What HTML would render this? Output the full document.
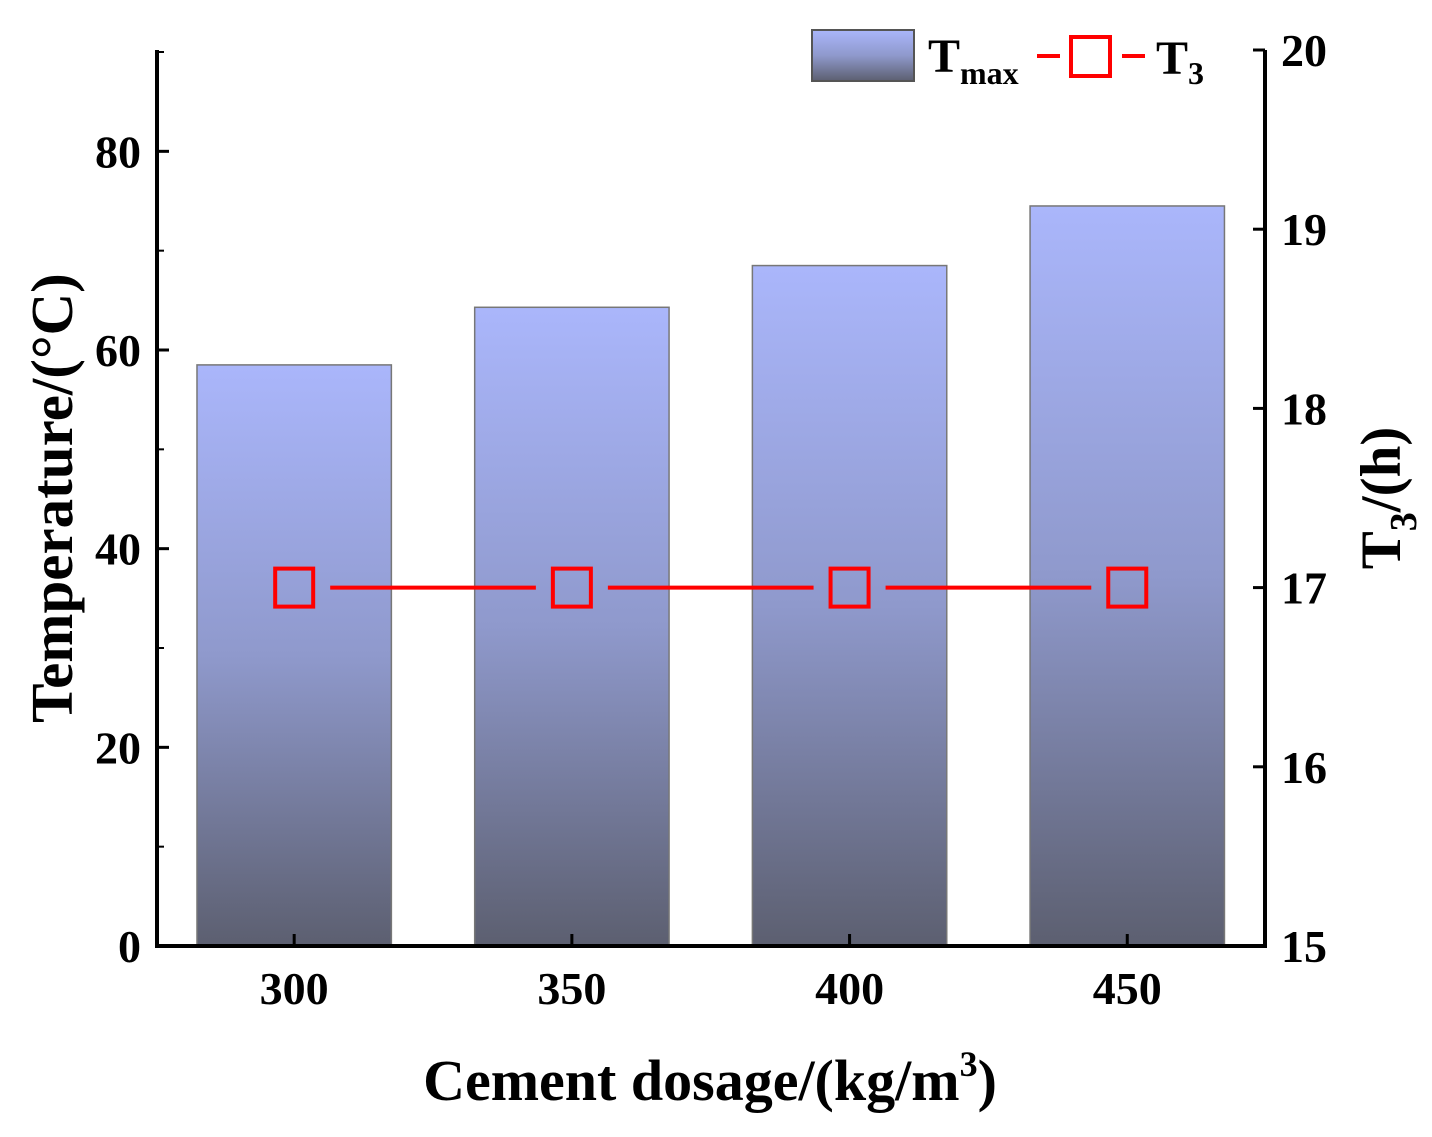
<!DOCTYPE html>
<html><head><meta charset="utf-8"><style>
html,body{margin:0;padding:0;background:#fff;}
svg{display:block;font-family:"Liberation Serif",serif;font-weight:bold;}
</style></head><body>
<svg id="chart" width="1432" height="1137" viewBox="0 0 1432 1137" xmlns="http://www.w3.org/2000/svg">
<defs>
<linearGradient id="barGrad" x1="0" y1="0" x2="0" y2="1">
<stop offset="0" stop-color="#aab6fb"/>
<stop offset="0.5" stop-color="#8f99cc"/>
<stop offset="1" stop-color="#5c5f70"/>
</linearGradient>
</defs>
<g id="bars"></g>
<g id="line"></g>
<g id="axes"></g>
<text x="710" y="1100" font-size="58" text-anchor="middle">Cement dosage/(kg/m<tspan dy="-24" font-size="36">3</tspan><tspan dy="24">)</tspan></text>
<text transform="translate(72,498) rotate(-90)" font-size="59" text-anchor="middle">Temperature/(°C)</text>
<text transform="translate(1400,498) rotate(-90)" font-size="57" text-anchor="middle">T<tspan dy="16" font-size="38">3</tspan><tspan dy="-16">/(h)</tspan></text>
<g>
<rect x="812" y="30" width="102" height="51" fill="url(#barGrad)" stroke="#555" stroke-width="2"/>
<text x="928" y="72" font-size="48">T<tspan dy="12" font-size="32">max</tspan></text>
<line x1="1037" y1="56" x2="1060" y2="56" stroke="#f00" stroke-width="4"/>
<rect x="1071" y="37" width="39" height="39" fill="none" stroke="#f00" stroke-width="4"/>
<line x1="1122" y1="56" x2="1145" y2="56" stroke="#f00" stroke-width="4"/>
<text x="1156" y="74" font-size="48">T<tspan dy="10" font-size="32">3</tspan></text>
</g>
</svg>
<script>
const categories = [300, 350, 400, 450];
const tmaxValues = [58.5, 64.3, 68.5, 74.5];
const t3Values = [17, 17, 17, 17];
const yTicks = [0, 20, 40, 60, 80];
const y2Ticks = [15, 16, 17, 18, 19, 20];

const NS = "http://www.w3.org/2000/svg";
const L = 157, R = 1265, B = 946, T = 50;
const xScale = v => L + (v - 275.3) / (474.8 - 275.3) * (R - L);
const yScale = v => B - v / 90 * (B - 52);
const y2Scale = v => B - (v - 15) / 5 * (B - T);
function mk(tag, attrs, parent) {
  const e = document.createElementNS(NS, tag);
  for (const k in attrs) e.setAttribute(k, attrs[k]);
  parent.appendChild(e); return e;
}
const bars = document.getElementById('bars');
const barW = (xScale(350) - xScale(300)) * 0.7;
categories.forEach((c, i) => {
  const r = mk('rect', {x: xScale(c) - barW / 2, y: yScale(tmaxValues[i]), width: barW, height: B - yScale(tmaxValues[i]), fill: 'url(#barGrad)', stroke: '#777', 'stroke-width': 1.5}, bars);
  
  
});
const line = document.getElementById('line');
for (let i = 0; i < categories.length - 1; i++) {
  const x1 = xScale(categories[i]) + 36, x2 = xScale(categories[i + 1]) - 36;
  const l = mk('line', {x1: x1, x2: x2, y1: y2Scale(t3Values[i]), y2: y2Scale(t3Values[i + 1]), stroke: '#f00', 'stroke-width': 4}, line);
  
  
}
categories.forEach((c, i) => {
  const m = mk('rect', {x: xScale(c) - 19, y: y2Scale(t3Values[i]) - 19, width: 38, height: 38, fill: 'none', stroke: '#f00', 'stroke-width': 4}, line);
  
  
});
const ax = document.getElementById('axes');
mk('line', {x1: L, y1: T, x2: L, y2: B + 2, stroke: '#000', 'stroke-width': 4}, ax);
mk('line', {x1: R, y1: T, x2: R, y2: B + 2, stroke: '#000', 'stroke-width': 4}, ax);
mk('line', {x1: L - 2, y1: B, x2: R + 2, y2: B, stroke: '#000', 'stroke-width': 4}, ax);
yTicks.forEach(v => {
  const y = yScale(v);
  mk('line', {x1: L, x2: L + 12, y1: y, y2: y, stroke: '#000', 'stroke-width': 3}, ax);
  const t = mk('text', {x: L - 16, y: y + 16, 'font-size': 46, 'text-anchor': 'end'}, ax);
  t.textContent = v;
  
  
});
for (let v = 10; v <= 90; v += 20) {
  const y = yScale(v);
  mk('line', {x1: L, x2: L + 7, y1: y, y2: y, stroke: '#000', 'stroke-width': 2}, ax);
}
y2Ticks.forEach(v => {
  const y = y2Scale(v);
  mk('line', {x1: R, x2: R - 12, y1: y, y2: y, stroke: '#000', 'stroke-width': 3}, ax);
  const t = mk('text', {x: R + 16, y: y + 16, 'font-size': 46, 'text-anchor': 'start'}, ax);
  t.textContent = v;
  
  
});
categories.forEach(c => {
  const x = xScale(c);
  mk('line', {x1: x, x2: x, y1: B, y2: B - 12, stroke: '#000', 'stroke-width': 3}, ax);
  const t = mk('text', {x: x, y: B + 58, 'font-size': 46, 'text-anchor': 'middle'}, ax);
  t.textContent = c;
  
  
});
</script>
</body></html>
